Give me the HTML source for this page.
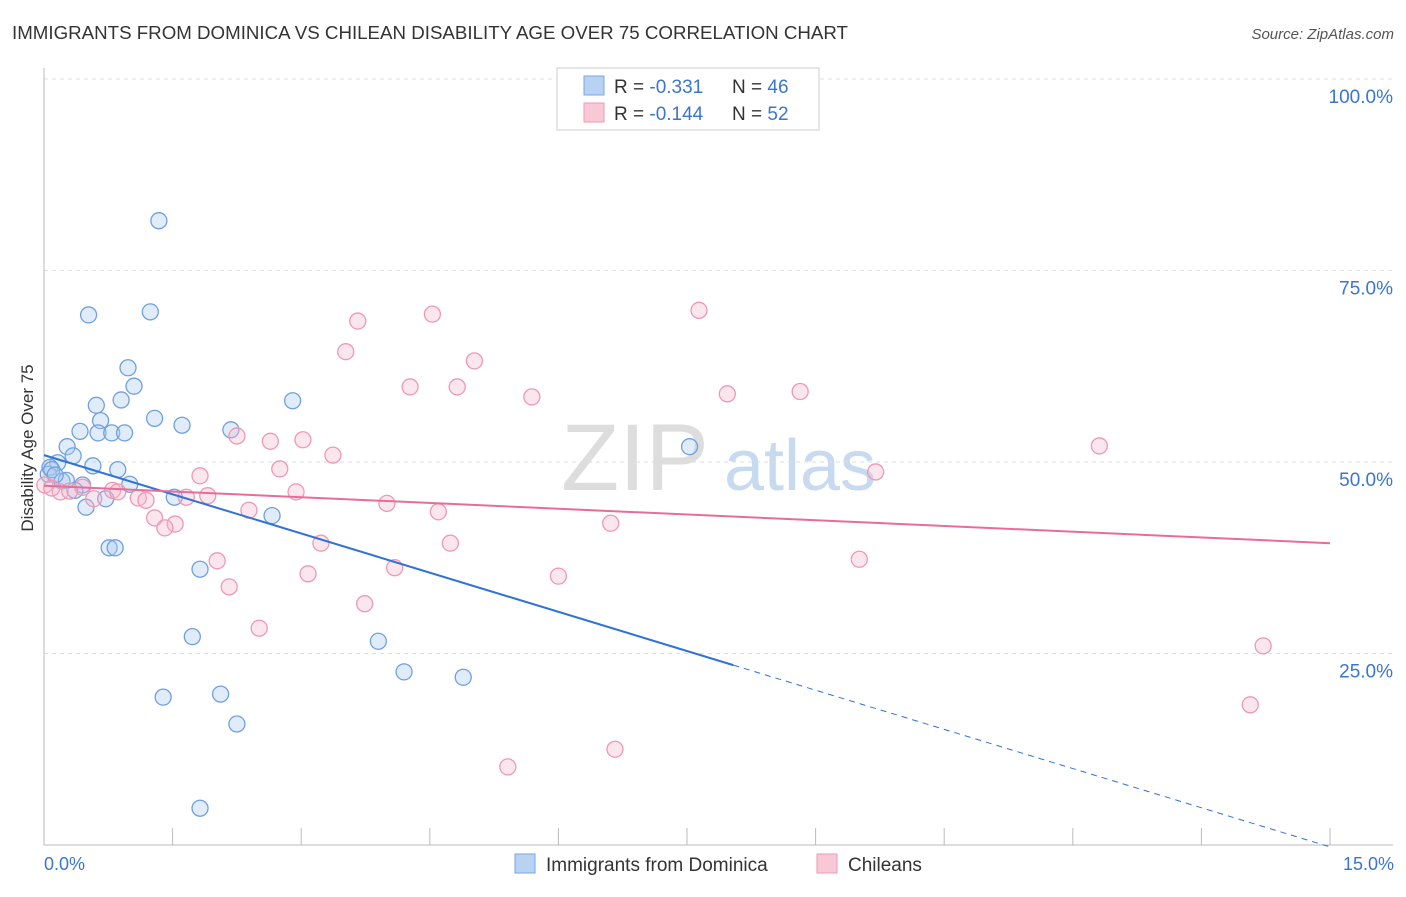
<!DOCTYPE html>
<html><head><meta charset="utf-8"><style>
body{margin:0;background:#fff;font-family:"Liberation Sans",sans-serif;}
svg text{font-family:"Liberation Sans",sans-serif;}
</style></head><body>
<svg id="c" width="1406" height="892" xmlns="http://www.w3.org/2000/svg">
<text x="12" y="39" font-size="18" fill="#333" textLength="836" lengthAdjust="spacingAndGlyphs">IMMIGRANTS FROM DOMINICA VS CHILEAN DISABILITY AGE OVER 75 CORRELATION CHART</text>
<text x="1394" y="39" font-size="15" fill="#555" text-anchor="end" font-style="italic">Source: ZipAtlas.com</text>
<text x="635" y="490" font-size="95" fill="#ddd" text-anchor="middle" font-family="Liberation Serif">ZIP</text>
<text x="800" y="490" font-size="72" fill="#c8daf0" text-anchor="middle">atlas</text>
<g id="grid"></g><g id="marks"></g>
<text x="40" y="455" font-size="17" fill="#333" text-anchor="middle" transform="rotate(-90 33 455)">Disability Age Over 75</text>
<text x="44" y="870" font-size="18" fill="#3a76d0">0.0%</text>
<text x="1394" y="870" font-size="18" fill="#3a76d0" text-anchor="end">15.0%</text>
<g>
<rect x="557" y="68" width="262" height="62" fill="#fff" stroke="#ccc"/>
<rect x="584" y="76" width="20" height="19" fill="#b8d2f4" stroke="#7aa6e0"/>
<rect x="584" y="103" width="20" height="19" fill="#f9c8d6" stroke="#ee9ab4"/>
<text x="614" y="93" font-size="19" fill="#333">R = <tspan fill="#3a76d0">-0.331</tspan><tspan x="732">N = </tspan><tspan fill="#3a76d0">46</tspan></text>
<text x="614" y="120" font-size="19" fill="#333">R = <tspan fill="#3a76d0">-0.144</tspan><tspan x="732">N = </tspan><tspan fill="#3a76d0">52</tspan></text>
</g>
<g>
<rect x="515" y="854" width="20" height="19" fill="#b8d2f4" stroke="#7aa6e0"/>
<text x="546" y="871" font-size="19" fill="#333">Immigrants from Dominica</text>
<rect x="817" y="854" width="20" height="19" fill="#f9c8d6" stroke="#ee9ab4"/>
<text x="848" y="871" font-size="19" fill="#333">Chileans</text>
</g>
</svg>
<script>
const yTicks=[25,50,75,100];
const yTickLabels=["25.0%","50.0%","75.0%","100.0%"];
const blueX=[1.34,0.52,1.24,0.98,1.05,0.61,0.90,2.90,1.29,0.66,1.61,2.18,0.42,0.63,0.79,0.94,0.27,0.34,0.16,0.07,0.57,0.86,7.53,0.05,0.21,0.45,1.00,0.36,0.72,1.52,0.49,2.66,0.76,0.83,1.82,1.73,3.90,1.39,2.06,4.20,4.89,2.25,1.82,0.09,0.26,0.13];
const blueY=[81.5,69.2,69.6,62.3,59.9,57.4,58.1,58.0,55.7,55.4,54.8,54.2,54.0,53.8,53.8,53.8,52.0,50.8,49.9,49.3,49.5,49.0,52.0,48.4,47.5,47.0,47.1,46.3,45.2,45.4,44.1,43.0,38.8,38.8,36.0,27.2,26.6,19.3,19.7,22.6,21.9,15.8,4.8,49.0,47.6,48.3];
const pinkX=[7.64,4.53,3.66,3.52,5.02,4.27,4.82,5.69,7.97,8.82,2.25,2.64,3.02,12.31,3.37,2.75,9.70,1.82,0.01,0.19,0.45,0.80,2.94,1.91,1.10,1.66,0.58,1.19,0.86,4.00,2.39,4.60,1.29,1.53,1.41,6.61,3.23,4.74,2.02,9.51,3.08,4.09,6.00,2.16,3.74,2.51,14.22,14.07,6.66,5.41,0.09,0.30];
const pinkY=[69.8,69.3,68.4,64.4,63.2,59.8,59.8,58.5,58.9,59.2,53.4,52.7,52.9,52.1,50.9,49.1,48.7,48.2,47.0,46.1,46.7,46.3,46.1,45.6,45.3,45.4,45.2,45.0,46.1,44.6,43.7,43.5,42.7,41.9,41.4,42.0,39.4,39.4,37.1,37.3,35.4,36.2,35.1,33.7,31.5,28.3,26.0,18.3,12.5,10.2,46.6,46.2];
const blueTrend=[50.9,-0.25]; const blueSolidEnd=8.04;
const pinkTrend=[46.9,39.4];
const X0=44,X1=1330,Y0=845,Y100=79;
const sx=v=>X0+(X1-X0)*v/15, sy=v=>Y0-(Y0-Y100)*v/100;
const NS="http://www.w3.org/2000/svg";
function mk(t,a,p){const e=document.createElementNS(NS,t);for(const k in a)e.setAttribute(k,a[k]);p.appendChild(e);return e;}
const g=document.getElementById('grid'),m=document.getElementById('marks');
yTicks.forEach((t,i)=>{
 const l=mk('line',{x1:X0,x2:1393,y1:sy(t),y2:sy(t),stroke:'#ddd','stroke-dasharray':'4,4'},g);
 
 
 const tx=mk('text',{x:1393,y:sy(t)+24,'font-size':19,fill:'#3a76d0','text-anchor':'end'},g);tx.textContent=yTickLabels[i];
 
 
});
const ax=mk('path',{d:`M${X0} 68V${Y0}H1393`,stroke:'#bbb',fill:'none'},g);


for(let i=1;i<=10;i++){const t=mk('line',{x1:sx(i*1.5),x2:sx(i*1.5),y1:828,y2:Y0,stroke:'#bbb'},g);
 
 }
function pts(xs,ys,fill,stroke,name){xs.forEach((x,i)=>{const c=mk('circle',{cx:sx(x),cy:sy(ys[i]),r:8,fill:fill,'fill-opacity':0.35,stroke:stroke,'stroke-width':1.3},m);
 
 });}
pts(blueX,blueY,'#a8c8f0','#6fa0e0','dominica-point');
pts(pinkX,pinkY,'#f6b8cc','#ee98b4','chilean-point');
const bf=x=>blueTrend[0]+(blueTrend[1]-blueTrend[0])*x/15;
let l1=mk('line',{x1:sx(0),y1:sy(bf(0)),x2:sx(blueSolidEnd),y2:sy(bf(blueSolidEnd)),stroke:'#2f72d8','stroke-width':2},m);


let l2=mk('line',{x1:sx(blueSolidEnd),y1:sy(bf(blueSolidEnd)),x2:sx(15),y2:sy(bf(15)),stroke:'#2f72d8','stroke-width':1,'stroke-dasharray':'6,5'},m);


let l3=mk('line',{x1:sx(0),y1:sy(pinkTrend[0]),x2:sx(15),y2:sy(pinkTrend[1]),stroke:'#e86d96','stroke-width':2},m);


</script>
</body></html>
